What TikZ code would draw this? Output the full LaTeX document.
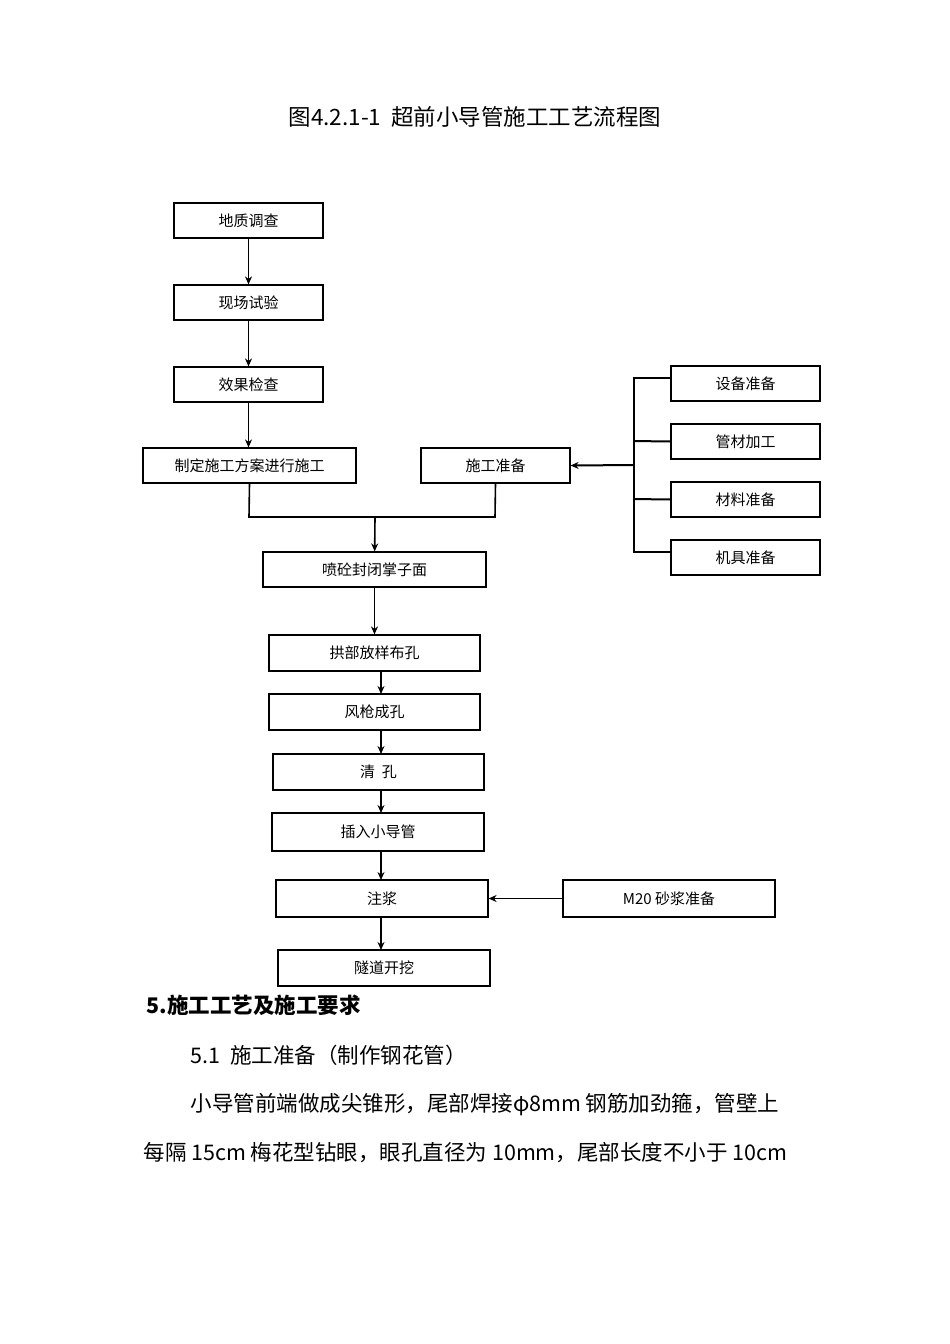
\documentclass[tikz,border=0pt]{standalone}
\usepackage{fontspec}
\setmainfont{Noto Sans CJK SC}
\usetikzlibrary{arrows.meta}
\tikzset{bx/.style={draw,line width=1.2pt,font=\fontsize{15}{17}\selectfont},
ar/.style={-{Stealth[length=8pt,width=7pt]},line width=1.6pt},
ln/.style={line width=1.6pt}}
\newcommand{\bbox}[6]{\node[bx,minimum width=#4-#2,minimum height=#5-#3,inner sep=0pt] (#1) at ({(#2+#4)/2},{(#3+#5)/2}) {#6};}
\begin{document}
\begin{tikzpicture}[x=1pt,y=-1pt]
\useasboundingbox (0,0) rectangle (950,1344);
\node (title) at (475,117) {\fontsize{22.5}{26}\selectfont 图4.2.1-1\ \ 超前小导管施工工艺流程图};
\bbox{a}{174}{203}{323}{238}{地质调查}
\bbox{b}{174}{285}{323}{320}{现场试验}
\bbox{c}{174}{367}{323}{402}{效果检查}
\bbox{d}{143}{448}{356}{483}{制定施工方案进行施工}
\bbox{e}{421}{448}{570}{483}{施工准备}
\bbox{r1}{671}{366}{820}{401}{设备准备}
\bbox{r2}{671}{424}{820}{459}{管材加工}
\bbox{r3}{671}{482}{820}{517}{材料准备}
\bbox{r4}{671}{540}{820}{575}{机具准备}
\bbox{f}{263}{552}{486}{587}{喷砼封闭掌子面}
\bbox{g}{269}{635}{480}{671}{拱部放样布孔}
\bbox{h}{269}{694}{480}{730}{风枪成孔}
\bbox{i}{273}{754}{484}{790}{清\ \ 孔}
\bbox{j}{272}{813}{484}{851}{插入小导管}
\bbox{k}{276}{880}{488}{917}{注浆}
\bbox{m}{563}{880}{775}{917}{M20 砂浆准备}
\bbox{l}{278}{950}{490}{986}{隧道开挖}
\draw[ar] (a) -- (b);
\draw[ar] (b) -- (c);
\draw[ar] (c) -- (c|-d.north);
\coordinate (j1) at (375,517);
\draw[ln] (d.south) -- (249,517) -- (495,517) -- (e.south);
\draw[ar] (j1) -- (f);
\draw[ar] (f) -- (f|-g.north);
\draw[ar] (381,671) -- (381,694);
\draw[ar] (381,730) -- (381,754);
\draw[ar] (381,790) -- (381,813);
\draw[ar] (381,851) -- (381,880);
\draw[ar] (381,917) -- (381,950);
\draw[ar] (m) -- (k);
\coordinate (t) at (634,377);
\coordinate (u) at (634,553);
\draw[line width=2pt] (t) -- (u);
\draw[line width=2pt] (633,378) -- (r1.west|-633,378);
\draw[line width=2pt] (633,441) -- (r2.west);
\draw[line width=2pt] (633,499) -- (r3.west);
\draw[line width=2pt] (633,552) -- (r4.west|-633,552);
\draw[ar,line width=2pt] (634,465) -- (e.east);
\node[anchor=west,font=\fontsize{21.5}{24}\selectfont\bfseries] (s5) at (143,1005) {5.施工工艺及施工要求};
\node[anchor=west,font=\fontsize{21.5}{24}\selectfont] (s51) at (187,1055) {5.1\ \ 施工准备（制作钢花管）};
\node[anchor=west,font=\fontsize{21.5}{24}\selectfont] (p1) at (187,1105) {小导管前端做成尖锥形，尾部焊接φ8mm 钢筋加劲箍，管壁上};
\node[anchor=west,font=\fontsize{21.5}{24}\selectfont] (p2) at (140,1153) {每隔 15cm 梅花型钻眼，眼孔直径为 10mm，尾部长度不小于 10cm};
\end{tikzpicture}
\end{document}
